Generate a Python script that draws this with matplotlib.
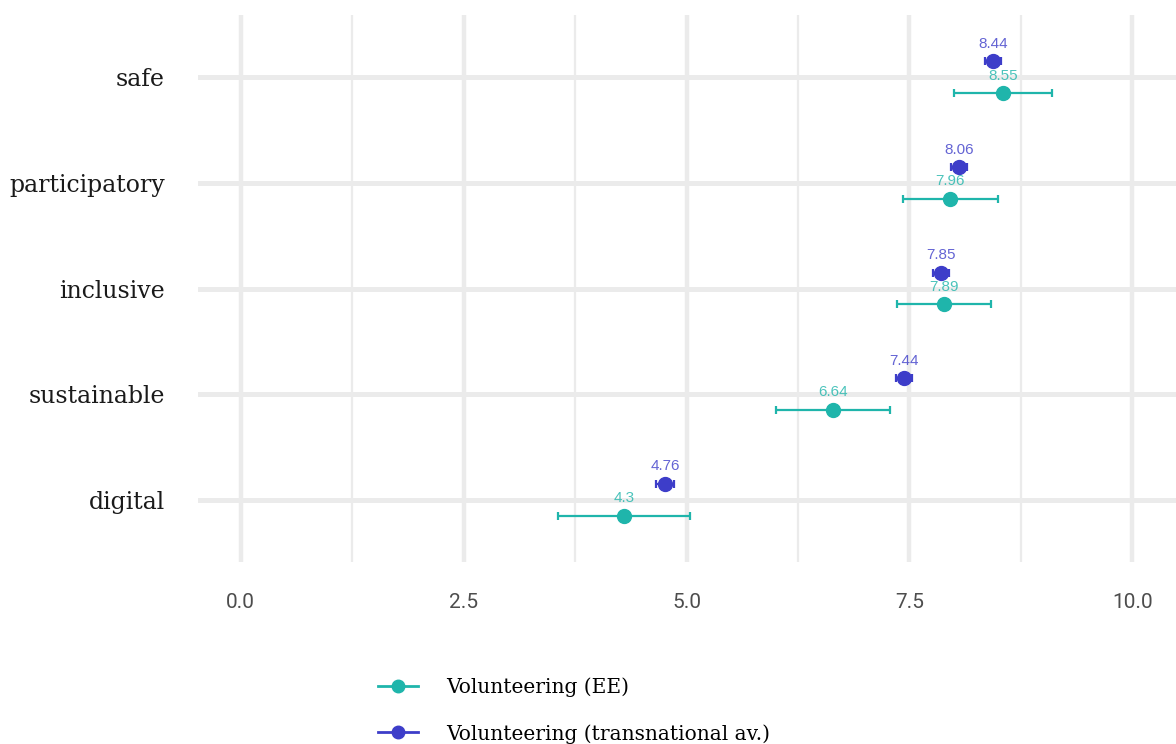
import matplotlib.pyplot as plt
from matplotlib.lines import Line2D

categories = ['digital', 'sustainable', 'inclusive', 'participatory', 'safe']
ee_mean = [4.3, 6.64, 7.89, 7.96, 8.55]
ee_err = [0.74, 0.64, 0.53, 0.53, 0.55]
tn_mean = [4.76, 7.44, 7.85, 8.06, 8.44]
tn_err = [0.1, 0.09, 0.09, 0.09, 0.09]

teal = '#1fb5ab'
blue = '#3d3dc9'
grid = '#ebebeb'

fig = plt.figure(figsize=(11.76, 7.44), dpi=100)
ax = fig.add_axes([198 / 1176, 182 / 744, 978 / 1176, 547 / 744])

ax.set_xlim(-0.48, 10.49)
ax.set_ylim(-0.59, 4.59)

for x in [0, 2.5, 5, 7.5, 10]:
    ax.axvline(x, color=grid, lw=3.2, zorder=0)
for x in [1.25, 3.75, 6.25, 8.75]:
    ax.axvline(x, color=grid, lw=1.6, zorder=0)
for y in range(len(categories)):
    ax.axhline(y, color=grid, lw=3.6, zorder=0)

off = 0.15
y_ee = [i - off for i in range(len(categories))]
y_tn = [i + off for i in range(len(categories))]

ax.errorbar(ee_mean, y_ee, xerr=ee_err, fmt='o', color=teal, ms=10,
            elinewidth=1.6, capsize=3, capthick=1.6, zorder=3)
ax.errorbar(tn_mean, y_tn, xerr=tn_err, fmt='o', color=blue, ms=10,
            elinewidth=1.6, capsize=3, capthick=1.6, zorder=3)

for x, y in zip(ee_mean, y_ee):
    ax.text(x, y + 0.1, f'{x:g}', color=teal, alpha=0.8, ha='center', va='bottom',
            fontsize=11, family='Liberation Sans')
for x, y in zip(tn_mean, y_tn):
    ax.text(x, y + 0.1, f'{x:g}', color=blue, alpha=0.8, ha='center', va='bottom',
            fontsize=11, family='Liberation Sans')

ax.set_yticks(range(len(categories)))
ax.set_yticklabels(categories, family='DejaVu Serif', fontsize=17, color='#1a1a1a')
ax.set_xticks([0, 2.5, 5, 7.5, 10])
ax.set_xticklabels(['0.0', '2.5', '5.0', '7.5', '10.0'], family='Roboto',
                   fontsize=15, color='#4d4d4d')
ax.tick_params(axis='both', length=0)
ax.tick_params(axis='x', pad=22)
ax.tick_params(axis='y', pad=24)
for s in ax.spines.values():
    s.set_visible(False)

handles = [
    Line2D([], [], color=teal, marker='o', ms=9, lw=2),
    Line2D([], [], color=blue, marker='o', ms=9, lw=2),
]
fig.legend(handles, ['Volunteering (EE)', 'Volunteering (transnational av.)'],
           loc='upper left', bbox_to_anchor=(378 / 1176, (744 - 677) / 744),
           frameon=False, borderpad=0, borderaxespad=0,
           prop={'family': 'DejaVu Serif', 'size': 14.5}, handlelength=2.0,
           handletextpad=1.4, labelspacing=1.35)

fig.savefig('out.png', dpi=100)
